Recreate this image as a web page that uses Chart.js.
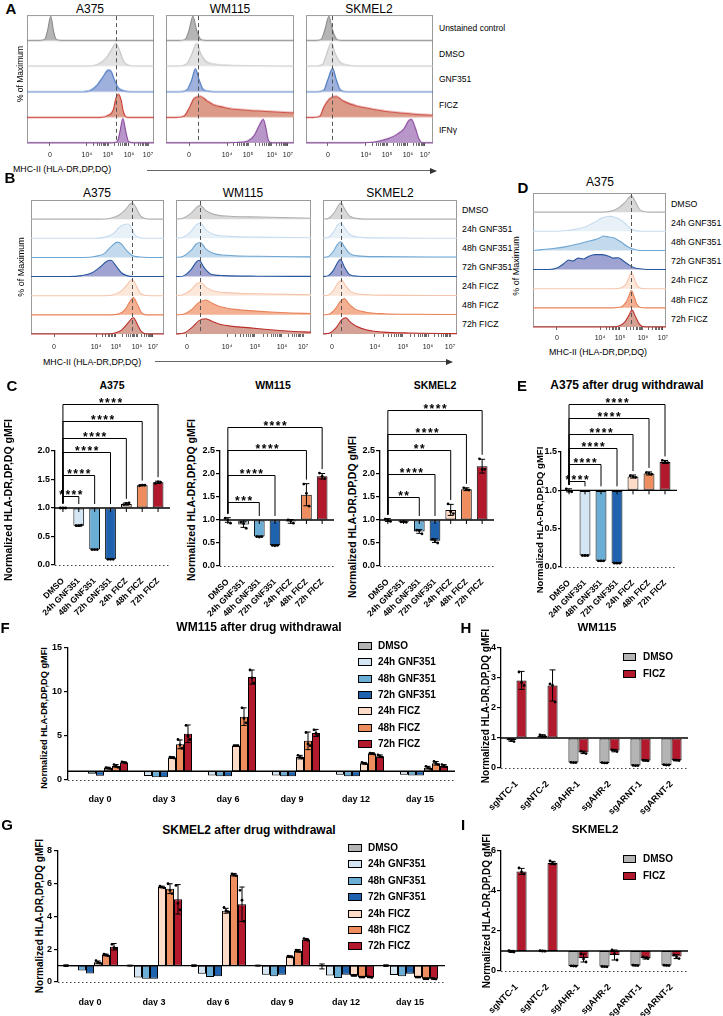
<!DOCTYPE html>
<html><head><meta charset="utf-8">
<script src="https://cdn.jsdelivr.net/npm/chart.js@4.4.1/dist/chart.umd.min.js"></script>
<style>
html,body{margin:0;padding:0;background:#fff}
#page{position:relative;width:723px;height:1016px;overflow:hidden;background:#fff;font-family:'Liberation Sans',Arial,sans-serif;color:#000}
.t{position:absolute;white-space:nowrap;line-height:1}
canvas{position:absolute}
</style></head><body><div id="page"></div>
<script>
// ================= DATA =================
// ---- flow cytometry histograms (x = % of box width, h = fraction of row height) ----
const rowsA = ['Unstained control','DMSO','GNF351','FICZ','IFNγ'];
const rowsB = ['DMSO','24h GNF351','48h GNF351','72h GNF351','24h FICZ','48h FICZ','72h FICZ'];
const flowTickLabels = ['0','10⁴','10⁵','10⁶','10⁷'];
const flowTicksA1 = [18.1,47.2,63.8,80.3,95.3];
const flowTicksA2 = [18.0,47.7,64.1,82.8,95.3];
const flowTicksA3 = [17.3,47.2,63.8,80.3,93.7];
const flowTicksB1 = [17.3,48.9,63.9,79.7,91.7];
const flowTicksB2 = [8.1,37.8,58.5,78.5,94.1];
const flowTicksB3 = [6.7,38.8,59.7,78.4,94.8];
const flowTicksD  = [18.0,50.4,65.4,82.7,97.7];
const dmsoLine = [70.1,25,20.5,75.9,17.8,13.4,73.7]; // A1,A2,A3,B1,B2,B3,D

const histA_A375 = [
 [[10,0],[14,0.05],[16,0.35],[18.7,0.95],[21,0.35],[23,0.05],[27,0]],
 [[50,0],[56,0.08],[62,0.3],[66,0.6],[70,0.9],[73,0.6],[76,0.2],[80,0.03],[84,0]],
 [[42,0],[50,0.06],[55,0.25],[60,0.6],[64,0.85],[66,0.82],[69,0.45],[72,0.15],[77,0.03],[82,0]],
 [[58,0],[64,0.08],[68,0.3],[70,0.75],[72,0.9],[74,0.7],[76,0.2],[79,0]],
 [[66,0],[71,0.05],[73,0.4],[75.5,0.95],[78,0.4],[80,0.05],[84,0]]
];
const histA_WM115 = [
 [[10,0],[15,0.05],[18,0.4],[21,0.95],[24,0.4],[27,0.05],[31,0]],
 [[10,0],[16,0.08],[20,0.45],[24,0.9],[27,0.5],[31,0.2],[38,0.08],[50,0.03],[70,0.01],[100,0]],
 [[11,0],[16,0.06],[20,0.45],[23,0.9],[26,0.45],[29,0.1],[34,0.02],[40,0]],
 [[8,0],[14,0.05],[18,0.35],[22,0.75],[27,0.82],[32,0.65],[37,0.5],[45,0.4],[52,0.33],[60,0.3],[66,0.27],[75,0.25],[85,0.22],[100,0.18]],
 [[40,0],[55,0.02],[64,0.08],[69,0.3],[73,0.7],[76,0.92],[78,0.6],[80,0.1],[83,0]]
];
const histA_SKMEL2 = [
 [[8,0],[12,0.05],[15,0.45],[18,0.95],[21,0.4],[24,0.06],[28,0]],
 [[8,0],[13,0.06],[16,0.45],[20,0.92],[23,0.5],[27,0.15],[33,0.04],[40,0]],
 [[9,0],[14,0.06],[17,0.45],[21,0.92],[24,0.45],[27,0.08],[32,0]],
 [[6,0],[11,0.05],[14,0.4],[19,0.75],[24,0.82],[29,0.65],[35,0.52],[40,0.45],[50,0.35],[58,0.28],[66,0.22],[74,0.18],[85,0.13],[95,0.1],[100,0.09]],
 [[35,0],[50,0.02],[58,0.08],[66,0.2],[72,0.35],[77,0.55],[81,0.88],[83,0.92],[86,0.6],[89,0.15],[92,0]]
];
const histB_A375 = [
 [[52,0],[60,0.05],[66,0.2],[71,0.5],[76,0.85],[79,0.6],[82,0.2],[86,0.03],[90,0]],
 [[48,0],[56,0.06],[62,0.25],[66,0.55],[70,0.72],[73,0.75],[76,0.5],[78,0.2],[82,0.03],[86,0]],
 [[40,0],[48,0.05],[55,0.2],[60,0.55],[65,0.8],[68,0.7],[72,0.35],[76,0.1],[82,0.02],[88,0]],
 [[28,0],[38,0.05],[46,0.2],[52,0.5],[57,0.8],[60,0.85],[64,0.55],[68,0.2],[72,0.05],[78,0]],
 [[55,0],[62,0.05],[68,0.25],[72,0.55],[76,0.85],[79,0.55],[82,0.15],[86,0.02],[90,0]],
 [[58,0],[66,0.05],[71,0.3],[74,0.65],[77,0.9],[80,0.55],[83,0.12],[87,0]],
 [[55,0],[63,0.05],[68,0.2],[72,0.5],[77,0.85],[80,0.5],[83,0.12],[87,0]]
];
const histB_WM115 = [
 [[0,0],[5,0.05],[11,0.3],[15,0.6],[18,0.72],[22,0.45],[28,0.25],[40,0.15],[55,0.12],[70,0.1],[85,0.07],[100,0.05]],
 [[0,0],[5,0.05],[11,0.35],[15,0.7],[18,0.8],[22,0.45],[28,0.2],[40,0.1],[60,0.06],[100,0.03]],
 [[0,0],[5,0.05],[11,0.35],[15,0.7],[18,0.78],[22,0.45],[28,0.2],[40,0.1],[60,0.06],[100,0.03]],
 [[2,0],[6,0.05],[11,0.35],[15,0.75],[17,0.85],[21,0.45],[26,0.12],[35,0.05],[60,0.02],[100,0.01]],
 [[0,0],[5,0.05],[11,0.3],[15,0.6],[18,0.7],[22,0.45],[28,0.25],[40,0.15],[60,0.1],[80,0.07],[100,0.05]],
 [[0,0],[6,0.05],[12,0.3],[17,0.65],[22,0.78],[27,0.6],[33,0.42],[42,0.3],[55,0.22],[70,0.15],[85,0.1],[100,0.07]],
 [[0,0],[6,0.05],[12,0.35],[17,0.7],[22,0.8],[27,0.65],[33,0.5],[42,0.4],[55,0.32],[70,0.22],[85,0.14],[100,0.1]]
];
const histB_SKMEL2 = [
 [[0,0],[4,0.04],[8,0.3],[11,0.65],[13.5,0.85],[16,0.55],[20,0.15],[25,0.04],[32,0]],
 [[0,0],[4,0.05],[8,0.35],[11,0.7],[13.5,0.8],[16,0.55],[20,0.2],[26,0.06],[40,0.02],[100,0]],
 [[0,0],[4,0.05],[8,0.35],[11,0.7],[13.5,0.82],[16,0.55],[20,0.2],[26,0.08],[40,0.04],[100,0.02]],
 [[0,0],[4,0.05],[8,0.35],[11,0.75],[13,0.9],[16,0.5],[20,0.1],[26,0.02],[34,0]],
 [[0,0],[4,0.04],[8,0.3],[11,0.65],[14,0.8],[17,0.5],[21,0.2],[28,0.08],[45,0.03],[100,0.01]],
 [[0,0],[5,0.05],[9,0.3],[13,0.7],[16,0.85],[19,0.6],[24,0.3],[32,0.14],[45,0.06],[70,0.03],[100,0.02]],
 [[0,0],[5,0.05],[10,0.35],[14,0.75],[17,0.85],[20,0.65],[25,0.4],[32,0.22],[45,0.1],[65,0.05],[100,0.02]]
];
const histD_A375 = [
 [[50,0],[58,0.04],[64,0.2],[69,0.5],[74,0.85],[77,0.55],[80,0.15],[84,0.02],[88,0]],
 [[15,0],[23,0.03],[32,0.1],[40,0.25],[47,0.5],[52,0.7],[58,0.78],[62,0.72],[67,0.55],[71,0.3],[74,0.12],[78,0.02],[82,0]],
 [[0,0],[5,0.03],[15,0.1],[25,0.2],[33,0.32],[40,0.45],[46,0.55],[50,0.65],[53,0.75],[57,0.7],[61,0.65],[66,0.45],[71,0.2],[75,0.08],[80,0]],
 [[12,0],[18,0.08],[23,0.3],[27,0.5],[30,0.45],[34,0.6],[38,0.55],[42,0.7],[47,0.78],[52,0.78],[57,0.7],[60,0.6],[64,0.62],[68,0.45],[72,0.25],[76,0.1],[82,0.03],[88,0]],
 [[60,0],[66,0.04],[70,0.25],[72,0.55],[74,0.85],[76,0.55],[78,0.2],[81,0.02],[85,0]],
 [[60,0],[66,0.04],[70,0.3],[72,0.6],[74,0.9],[76,0.6],[78,0.2],[81,0.02],[85,0]],
 [[58,0],[64,0.04],[69,0.25],[72,0.6],[74.5,0.88],[77,0.55],[80,0.15],[84,0]]
];
const colA = [['#8c8c8c','#b5b5b5'],['#c4c4c4','#e2e2e2'],['#4a78c2','#9eb0dc'],['#c93a32','#dc9a88'],['#8a4b9d','#b996c9']];
const colB = [['#b0b0b0','#d8d8d8'],['#c8dcee','#e8f1f8'],['#6fa7d4','#c3d9ec'],['#28579f','#9fa3d1'],['#f5c5ac','#fce7db'],['#e8835a','#f3b092'],['#bd2e2b','#d6a195']];

// ---- bar charts ----
const condLabels = ['DMSO','24h GNF351','48h GNF351','72h GNF351','24h FICZ','48h FICZ','72h FICZ'];
const condColors = ['#b4b4b4','#d4e6f3','#6aaed6','#1f62ad','#fddbc6','#ee8d5e','#b3192c'];

const meanA375 = [1.0,0.69,0.27,0.10,1.07,1.40,1.45];
const errA375  = [0.01,0.01,0.005,0.005,0.02,0.01,0.02];
const ptsA375  = [[1.0,1.0,1.0],[0.69,0.69,0.70],[0.27,0.27,0.27],[0.10,0.10,0.10],[1.06,1.08,1.09],[1.39,1.40,1.40],[1.43,1.46,1.45]];
const sigA375  = [[1,1.21,'****'],[2,1.58,'****'],[3,1.98,'****'],[4,2.23,'****'],[5,2.53,'****'],[6,2.82,'****']];

const meanWM115 = [1.0,0.9,0.64,0.45,0.97,1.55,1.95];
const errWM115  = [0.05,0.06,0.01,0.01,0.04,0.24,0.06];
const ptsWM115  = [[1.04,1.0,0.93],[0.95,0.92,0.82],[0.64,0.63,0.64],[0.45,0.44,0.45],[1.0,0.98,0.93],[1.78,1.58,1.3],[2.02,1.95,1.9]];
const sigWM115  = [[2,1.39,'***'],[3,1.98,'****'],[5,2.52,'****'],[6,3.02,'****']];

const meanSKMEL2 = [1.0,0.96,0.75,0.55,1.22,1.67,2.17];
const errSKMEL2  = [0.03,0.01,0.04,0.04,0.12,0.03,0.15];
const ptsSKMEL2  = [[1.02,0.99,0.97],[0.96,0.96,0.95],[0.78,0.77,0.7],[0.58,0.55,0.5],[1.35,1.18,1.14],[1.7,1.67,1.65],[2.33,2.1,2.1]];
const sigSKMEL2  = [[2,1.5,'**'],[3,2.0,'****'],[4,2.52,'**'],[5,2.87,'****'],[6,3.39,'****']];

const meanE = [1.0,0.15,0.08,0.05,1.18,1.22,1.37];
const errE  = [0.02,0.005,0.005,0.005,0.02,0.02,0.02];
const ptsE  = [[1.02,0.99,0.98],[0.15,0.15,0.15],[0.08,0.08,0.08],[0.05,0.05,0.05],[1.19,1.18,1.17],[1.23,1.22,1.21],[1.39,1.37,1.36]];
const sigE  = [[1,1.12,'****'],[2,1.34,'****'],[3,1.55,'****'],[4,1.74,'****'],[5,1.94,'****'],[6,2.13,'****']];

const days = ['day 0','day 3','day 6','day 9','day 12','day 15'];
const wmDMSO   = [1.0,1.0,1.0,1.0,1.0,1.0];
const wmGNF24  = [0.92,0.45,0.5,0.5,0.6,0.6];
const wmGNF48  = [0.72,0.3,0.42,0.42,0.42,0.5];
const wmGNF72  = [0.48,0.3,0.42,0.42,0.42,0.5];
const wmFICZ24 = [1.35,2.55,3.9,2.6,1.9,1.4];
const wmFICZ48 = [1.6,4.05,7.2,4.45,3.0,1.9];
const wmFICZ72 = [2.0,5.25,11.7,5.35,2.7,1.6];
const wmErr24  = [0.1,0.1,0.05,0.2,0.1,0.15];
const wmErr48  = [0.15,0.5,1.0,1.0,0.1,0.2];
const wmErr72  = [0.05,1.0,0.8,0.4,0.15,0.15];
const wmPts24  = [[1.4,1.35,1.3],[2.6,2.55,2.5],[3.9,3.9,3.9],[2.8,2.6,2.5],[2.0,1.9,1.85],[1.55,1.4,1.3]];
const wmPts48  = [[1.75,1.6,1.45],[4.6,4.0,3.6],[8.2,7.0,6.5],[5.4,4.1,3.9],[3.05,3.0,2.95],[2.1,1.9,1.75]];
const wmPts72  = [[2.05,2.0,1.95],[6.2,5.0,4.6],[12.5,11.6,11.0],[5.7,5.3,5.05],[2.85,2.7,2.6],[1.75,1.6,1.5]];

const skDMSO   = [1.0,1.0,1.0,1.0,0.95,1.0];
const skGNF24  = [0.95,0.28,0.5,0.45,0.4,0.42];
const skGNF48  = [0.7,0.2,0.3,0.35,0.25,0.35];
const skGNF72  = [0.52,0.2,0.35,0.45,0.45,0.5];
const skFICZ24 = [1.2,5.8,4.35,1.55,0.4,0.3];
const skFICZ48 = [1.65,5.7,6.55,1.9,0.3,0.2];
const skFICZ72 = [2.15,5.05,4.75,2.6,0.3,0.2];
const skErrD   = [0.05,0.03,0.05,0.03,0.15,0.05];
const skErr24  = [0.08,0.05,0.15,0.05,0.03,0.03];
const skErr48  = [0.05,0.3,0.08,0.08,0.03,0.03];
const skErr72  = [0.2,0.9,1.05,0.06,0.03,0.03];
const skPts24  = [[1.3,1.2,1.15],[5.85,5.8,5.75],[4.55,4.35,4.3],[1.58,1.55,1.52],[0.4,0.4,0.4],[0.3,0.3,0.3]];
const skPts48  = [[1.7,1.65,1.6],[6.0,5.6,5.4],[6.6,6.55,6.5],[1.95,1.9,1.85],[0.3,0.3,0.3],[0.2,0.2,0.2]];
const skPts72  = [[2.3,2.1,2.05],[5.9,4.8,4.4],[5.6,5.0,3.7],[2.65,2.6,2.55],[0.32,0.3,0.28],[0.22,0.2,0.18]];

const sgLabels = ['sgNTC-1','sgNTC-2','sgAHR-1','sgAHR-2','sgARNT-1','sgARNT-2'];
const hDMSO  = [0.93,1.07,0.18,0.17,0.08,0.1];
const hFICZ  = [2.92,2.75,0.52,0.58,0.25,0.26];
const hErrD  = [0.04,0.04,0.01,0.01,0.01,0.01];
const hErrF  = [0.3,0.52,0.04,0.04,0.02,0.02];
const hPtsD  = [[0.96,0.92,0.88],[1.1,1.06,1.05],[0.19,0.18,0.18],[0.18,0.17,0.17],[0.09,0.08,0.08],[0.11,0.1,0.1]];
const hPtsF  = [[3.2,2.85,2.75],[2.8,2.75,2.2],[0.56,0.52,0.48],[0.6,0.58,0.55],[0.26,0.25,0.24],[0.27,0.26,0.25]];
const iDMSO  = [0.98,1.0,0.25,0.22,0.28,0.28];
const iFICZ  = [4.98,5.4,0.65,0.8,0.65,0.72];
const iErrD  = [0.05,0.03,0.02,0.02,0.02,0.02];
const iErrF  = [0.15,0.08,0.2,0.25,0.05,0.1];
const iPtsD  = [[1.02,0.98,0.95],[1.02,1.0,0.99],[0.26,0.25,0.24],[0.23,0.22,0.21],[0.29,0.28,0.27],[0.29,0.28,0.27]];
const iPtsF  = [[5.15,4.95,4.85],[5.5,5.4,5.35],[0.85,0.6,0.45],[1.05,0.85,0.55],[0.7,0.65,0.62],[0.8,0.7,0.62]];

// ================= RENDERING =================
const FONT = "'Liberation Sans', Arial, 'DejaVu Sans', sans-serif";
Chart.defaults.font.family = FONT;
const page = document.getElementById('page');

function mkCanvas(x,y,w,h){
  const c=document.createElement('canvas');
  c.width=w; c.height=h;
  Object.assign(c.style,{left:x+'px',top:y+'px',width:w+'px',height:h+'px'});
  page.appendChild(c); return c;
}
function text(s,x,y,o={}){
  const d=document.createElement('div'); d.className='t'; d.textContent=s;
  const st=d.style; st.left=x+'px'; st.top=y+'px';
  st.fontSize=(o.size||9)+'px'; st.fontWeight=o.bold?'bold':'normal'; st.color=o.color||'#000';
  const ax=o.align==='left'?'0':(o.align==='right'?'-100%':'-50%');
  st.transform=`translate(${ax},-50%)`+(o.rot?` rotate(${o.rot}deg)`:'');
  page.appendChild(d); return d;
}
function hline(x1,x2,y,arrow){
  const d=document.createElement('div');
  d.style.cssText=`position:absolute;left:${x1}px;top:${y}px;width:${x2-x1}px;height:0;border-top:1px solid #666`;
  page.appendChild(d);
  if(arrow){const h=document.createElement('div');
    h.style.cssText=`position:absolute;left:${x2-2}px;top:${y-2.5}px;width:0;height:0;border-top:3px solid transparent;border-bottom:3px solid transparent;border-left:7px solid #333`;
    page.appendChild(h);}
}

// ---- histogram decoration plugin ----
const histDeco = {
  id:'histDeco',
  beforeDatasetsDraw(chart){
    const {ctx, chartArea:a}=chart; ctx.save();
    ctx.strokeStyle='#9a9a9a'; ctx.lineWidth=1;
    ctx.strokeRect(a.left+0.5,a.top+0.5,a.right-a.left-1,a.bottom-a.top-1);
    ctx.restore();
  },
  afterDatasetsDraw(chart,args,opt){
    const {ctx, chartArea:a, scales:{x}}=chart; ctx.save();
    const xd=Math.round(x.getPixelForValue(opt.dash))+0.5;
    ctx.strokeStyle='#555'; ctx.lineWidth=1; ctx.setLineDash([4,3]);
    ctx.beginPath(); ctx.moveTo(xd,a.top+1); ctx.lineTo(xd,a.bottom); ctx.stroke();
    ctx.restore();
  }
};
function histChart(o){
  const a=o.area, m={l:3,t:3,r:3,b:18};
  const cx=a.l-m.l, cy=a.t-m.t, cw=a.r-a.l+m.l+m.r, ch=a.b-a.t+m.t+m.b;
  const c=mkCanvas(cx,cy,cw,ch);
  const n=o.curves.length;
  const ds=o.curves.map((cv,i)=>{
    const base=n-1-i;
    const pts=cv.map(p=>({x:p[0],y:base+p[1]}));
    if(cv[0][0]>0) pts.unshift({x:0,y:base});
    if(cv[cv.length-1][0]<100) pts.push({x:100,y:base});
    return {data:pts,borderColor:o.colors[i][0],backgroundColor:o.colors[i][1],fill:{value:base},
      borderWidth:1.1,pointRadius:0,cubicInterpolationMode:'monotone',clip:2};
  });
  const tickVals=[...o.ticks];
  for(let j=1;j<o.ticks.length-1;j++){const p=o.ticks[j],q=o.ticks[j+1];for(let k=2;k<10;k++)tickVals.push(p+(q-p)*Math.log10(k));}
  new Chart(c,{type:'line',data:{datasets:ds},options:{
    responsive:false,animation:false,devicePixelRatio:1,
    layout:{autoPadding:false,padding:{left:m.l,top:m.t,right:m.r,bottom:0}},
    plugins:{legend:{display:false},tooltip:{enabled:false},histDeco:{dash:o.dash}},
    scales:{
      x:{type:'linear',min:0,max:100,
        afterBuildTicks(s){s.ticks=tickVals.map(v=>({value:v}));},
        afterFit(s){s.height=m.b;},
        grid:{display:true,drawOnChartArea:false,drawTicks:true,tickLength:3,color:'#444',lineWidth:0.8},
        border:{display:false},
        ticks:{autoSkip:false,maxRotation:0,minRotation:0,padding:o.tpad||5,color:'#222',font:{size:7},
          callback:(v)=>{const i=o.ticks.indexOf(v);return i>=0?flowTickLabels[i]:'';}}},
      y:{display:false,min:0,max:n}
    }},plugins:[histDeco]});
}

// ---- Prism-style bar plugin ----
const prism = {
  id:'prism',
  afterDatasetsDraw(chart,args,opt){
    const {ctx,chartArea:a,scales:{x:xs,y:ys}}=chart;
    ctx.save();
    const y0=Math.round(ys.getPixelForValue(0))+0.5;
    ctx.strokeStyle='#444'; ctx.lineWidth=1; ctx.setLineDash([1.5,2.5]);
    ctx.beginPath(); ctx.moveTo(a.left,y0); ctx.lineTo(a.right+opt.ext,y0); ctx.stroke();
    ctx.setLineDash([]);
    const yb=ys.getPixelForValue(opt.base);
    ctx.strokeStyle='#000'; ctx.lineWidth=1.4;
    ctx.beginPath(); ctx.moveTo(a.left,yb); ctx.lineTo(a.right+opt.ext,yb); ctx.stroke();
    if(opt.baseTicks){ctx.lineWidth=1;for(let i=0;i<chart.data.labels.length;i++){const x=xs.getPixelForValue(i);ctx.beginPath();ctx.moveTo(x,yb);ctx.lineTo(x,yb+4);ctx.stroke();}}
    chart.data.datasets.forEach((ds,di)=>{
      const meta=chart.getDatasetMeta(di);
      meta.data.forEach((bar,i)=>{
        const x=bar.x, hw=Math.min(3,bar.width/3);
        if(ds.err&&ds.err[i]){
          const mv=ds.data[i],e=ds.err[i];
          const ya=ys.getPixelForValue(mv-e), yc=ys.getPixelForValue(mv+e);
          ctx.lineWidth=1; ctx.strokeStyle='#000'; ctx.beginPath();
          ctx.moveTo(x,ya);ctx.lineTo(x,yc);ctx.moveTo(x-hw,ya);ctx.lineTo(x+hw,ya);ctx.moveTo(x-hw,yc);ctx.lineTo(x+hw,yc);ctx.stroke();
        }
        if(ds.pts&&ds.pts[i]){
          const n=ds.pts[i].length;
          ds.pts[i].forEach((v,k)=>{const dx=(k-(n-1)/2)*bar.width/4;ctx.fillStyle='#000';ctx.beginPath();ctx.arc(x+dx,ys.getPixelForValue(v),1.4,0,7);ctx.fill();});
        }
      });
    });
    if(opt.brackets&&opt.brackets.length){
      const d0=chart.data.datasets[0];
      const topOf=k=>{let v=Math.max(d0.data[k],opt.base);if(d0.err)v=Math.max(v,d0.data[k]+d0.err[k]);if(d0.pts)v=Math.max(v,...d0.pts[k]);return ys.getPixelForValue(v)-4;};
      const x0=xs.getPixelForValue(0);
      ctx.strokeStyle='#000'; ctx.lineWidth=1; ctx.fillStyle='#000';
      ctx.font=`bold 12px ${FONT}`; ctx.textAlign='center'; ctx.textBaseline='alphabetic';
      try{ctx.letterSpacing='1.5px';}catch(e){}
      opt.brackets.forEach(([j,h,lab])=>{
        const x1=xs.getPixelForValue(j), yt=Math.round(ys.getPixelForValue(h))+0.5;
        ctx.beginPath(); ctx.moveTo(x0,topOf(0)); ctx.lineTo(x0,yt); ctx.lineTo(x1,yt); ctx.lineTo(x1,topOf(j)); ctx.stroke();
        ctx.fillText(lab,(x0+x1)/2+0.75,yt+2.5);
      });
      try{ctx.letterSpacing='0px';}catch(e){}
    }
    if(opt.legend){
      const L=opt.legend, w=L.w||14;
      ctx.font=`bold ${L.size||10}px ${FONT}`; ctx.textBaseline='middle'; ctx.textAlign='left';
      chart.data.datasets.forEach((ds,i)=>{
        const y=Math.round(L.y+i*L.dy);
        ctx.fillStyle=ds.backgroundColor; ctx.fillRect(L.x,y-3.5,w,7);
        ctx.strokeStyle='#000'; ctx.lineWidth=1; ctx.strokeRect(L.x+0.5,y-3.5,w-1,7);
        ctx.fillStyle='#000'; ctx.fillText(ds.label,L.tx,y+0.5);
      });
    }
    ctx.restore();
  }
};
function barChart(o){
  const a=o.area,m=o.m;
  const cx=a.l-m.l, cy=a.t-m.t, cw=a.r-a.l+m.l+m.r, ch=a.b-a.t+m.t+m.b;
  const c=mkCanvas(cx,cy,cw,ch);
  const leg=o.legend?{...o.legend,x:o.legend.x-cx,tx:o.legend.tx-cx,y:o.legend.y-cy}:null;
  new Chart(c,{type:'bar',data:{labels:o.labels,datasets:o.datasets},options:{
    responsive:false,animation:false,devicePixelRatio:1,
    layout:{autoPadding:false,padding:{left:0,top:m.t,right:m.r,bottom:0}},
    plugins:{legend:{display:false},tooltip:{enabled:false},
      prism:{base:1,brackets:o.brackets||[],legend:leg,baseTicks:!!o.baseTicks,ext:o.ext??4}},
    scales:{
      x:{offset:true,grid:{display:false},border:{display:false},
        ticks:{autoSkip:false,maxRotation:o.rot||0,minRotation:o.rot||0,padding:o.xpad??3,color:'#000',
          font:{family:FONT,weight:'bold',size:o.xfs||9}},
        afterFit(s){s.height=m.b;}},
      y:{min:o.yMin,max:o.yMax,
        afterBuildTicks(s){s.ticks=o.yTicks.map(v=>({value:v}));},
        ticks:{callback:(v)=>Number(v).toFixed(o.dec||0),padding:o.ypad??2,color:'#000',font:{family:FONT,weight:'bold',size:o.yfs||9}},
        grid:{display:true,drawOnChartArea:false,drawTicks:true,tickLength:o.tl??4,color:'#000',lineWidth:1.2},
        border:{display:true,color:'#000',width:1.3},
        afterFit(s){s.width=m.l;}}
    }},plugins:[prism]});
}
const barStyle={borderColor:'#000',borderWidth:1,borderSkipped:false,base:1};

// ================= PANEL A =================
text('A',11,8,{size:15,bold:true});
text('A375',90,9,{size:12}); text('WM115',230,9,{size:12}); text('SKMEL2',369,9,{size:12});
histChart({area:{l:27,t:15,r:154,b:142.5},curves:histA_A375,colors:colA,ticks:flowTicksA1,dash:dmsoLine[0],tpad:5});
histChart({area:{l:166,t:15,r:294,b:142.5},curves:histA_WM115,colors:colA,ticks:flowTicksA2,dash:dmsoLine[1],tpad:5});
histChart({area:{l:306,t:15,r:433,b:142.5},curves:histA_SKMEL2,colors:colA,ticks:flowTicksA3,dash:dmsoLine[2],tpad:5});
rowsA.forEach((r,i)=>text(r,439,28+25.5*i,{size:8.5,align:'left'}));
text('% of Maximum',20,74,{size:8.5,rot:-90});
text('MHC-II (HLA-DR,DP,DQ)',13,169,{size:8.8,align:'left'});
hline(147,432,170,true);

// ================= PANEL B =================
text('B',10,177,{size:15,bold:true});
text('A375',97,193,{size:12}); text('WM115',243,193,{size:12}); text('SKMEL2',390,193,{size:12});
histChart({area:{l:31,t:200,r:164,b:334},curves:histB_A375,colors:colB,ticks:flowTicksB1,dash:dmsoLine[3],tpad:6});
histChart({area:{l:176,t:200,r:311,b:334},curves:histB_WM115,colors:colB,ticks:flowTicksB2,dash:dmsoLine[4],tpad:6});
histChart({area:{l:323,t:200,r:457,b:334},curves:histB_SKMEL2,colors:colB,ticks:flowTicksB3,dash:dmsoLine[5],tpad:6});
rowsB.forEach((r,i)=>text(r,462,209.5+19.1*i,{size:8.8,align:'left'}));
text('% of Maximum',21,267,{size:9,rot:-90});
text('MHC-II (HLA-DR,DP,DQ)',43,362,{size:8.8,align:'left'});
hline(155,448,361,true);

// ================= PANEL D =================
text('D',523,187,{size:15,bold:true});
text('A375',600,182,{size:12});
histChart({area:{l:533,t:193,r:666,b:327},curves:histD_A375,colors:colB,ticks:flowTicksD,dash:dmsoLine[6],tpad:4});
rowsB.forEach((r,i)=>text(r,671,204+19.1*i,{size:8.8,align:'left'}));
text('% of Maximum',516,266,{size:9,rot:-90});
text('MHC-II (HLA-DR,DP,DQ)',598,352,{size:8.8});

// ================= PANEL C =================
text('C',12,385,{size:15,bold:true});
text('A375',112,385,{size:10.5,bold:true});
text('WM115',273,385,{size:10.5,bold:true});
text('SKMEL2',435,385,{size:10.5,bold:true});
const yTitle='Normalized HLA-DR,DP,DQ gMFI';
text(yTitle,8,500,{size:10.5,bold:true,rot:-90});
text(yTitle,191,500,{size:10.5,bold:true,rot:-90});
text(yTitle,352,517,{size:10.5,bold:true,rot:-90});
barChart({area:{l:55,t:451,r:166,b:565},m:{l:30,t:75,r:8,b:55},labels:condLabels,
  datasets:[{data:meanA375,backgroundColor:condColors,err:errA375,pts:ptsA375,...barStyle,barPercentage:0.68,categoryPercentage:1}],
  yMin:0,yMax:2,yTicks:[0,0.5,1,1.5,2],dec:1,rot:45,xfs:8.5,brackets:sigA375,baseTicks:true,ypad:1});
barChart({area:{l:220,t:451,r:330,b:566},m:{l:30,t:60,r:8,b:55},labels:condLabels,
  datasets:[{data:meanWM115,backgroundColor:condColors,err:errWM115,pts:ptsWM115,...barStyle,barPercentage:0.68,categoryPercentage:1}],
  yMin:0,yMax:2.5,yTicks:[0,0.5,1,1.5,2,2.5],dec:1,rot:45,xfs:8.5,brackets:sigWM115,baseTicks:true,ypad:1});
barChart({area:{l:380,t:451,r:490,b:566},m:{l:30,t:60,r:8,b:55},labels:condLabels,
  datasets:[{data:meanSKMEL2,backgroundColor:condColors,err:errSKMEL2,pts:ptsSKMEL2,...barStyle,barPercentage:0.68,categoryPercentage:1}],
  yMin:0,yMax:2.5,yTicks:[0,0.5,1,1.5,2,2.5],dec:1,rot:45,xfs:8.5,brackets:sigSKMEL2,baseTicks:true,ypad:1});

// ================= PANEL E =================
text('E',522,385,{size:15,bold:true});
text('A375 after drug withdrawal',627,385,{size:12,bold:true});
text(yTitle,540,520,{size:9.5,bold:true,rot:-90});
barChart({area:{l:561,t:452,r:673,b:567},m:{l:30,t:65,r:8,b:55},labels:condLabels,
  datasets:[{data:meanE,backgroundColor:condColors,err:errE,pts:ptsE,...barStyle,barPercentage:0.68,categoryPercentage:1}],
  yMin:0,yMax:1.5,yTicks:[0,0.5,1,1.5],dec:1,rot:45,xfs:8.5,brackets:sigE,baseTicks:true,ypad:1,tl:3});

// ================= PANEL F =================
text('F',5,627,{size:15,bold:true});
text('WM115 after drug withdrawal',259,627,{size:12,bold:true});
text(yTitle,45,718,{size:9.2,bold:true,rot:-90});
const gb={...barStyle,barPercentage:1,categoryPercentage:0.875};
barChart({area:{l:68,t:648,r:452,b:780},m:{l:28,t:10,r:8,b:24},labels:days,
  datasets:[
    {label:'DMSO',data:wmDMSO,backgroundColor:condColors[0],...gb},
    {label:'24h GNF351',data:wmGNF24,backgroundColor:condColors[1],...gb},
    {label:'48h GNF351',data:wmGNF48,backgroundColor:condColors[2],...gb},
    {label:'72h GNF351',data:wmGNF72,backgroundColor:condColors[3],...gb},
    {label:'24h FICZ',data:wmFICZ24,backgroundColor:condColors[4],err:wmErr24,pts:wmPts24,...gb},
    {label:'48h FICZ',data:wmFICZ48,backgroundColor:condColors[5],err:wmErr48,pts:wmPts48,...gb},
    {label:'72h FICZ',data:wmFICZ72,backgroundColor:condColors[6],err:wmErr72,pts:wmPts72,...gb}],
  yMin:0,yMax:15,yTicks:[0,5,10,15],dec:0,rot:0,xfs:9,xpad:6,ext:3,
  legend:{x:358,tx:378,y:646,dy:16.3}});

// ================= PANEL G =================
text('G',7,824,{size:15,bold:true});
text('SKMEL2 after drug withdrawal',249,830,{size:12,bold:true});
text(yTitle,40,916,{size:10,bold:true,rot:-90});
barChart({area:{l:58,t:851,r:442,b:982},m:{l:28,t:10,r:8,b:24},labels:days,
  datasets:[
    {label:'DMSO',data:skDMSO,backgroundColor:condColors[0],err:skErrD,...gb},
    {label:'24h GNF351',data:skGNF24,backgroundColor:condColors[1],...gb},
    {label:'48h GNF351',data:skGNF48,backgroundColor:condColors[2],...gb},
    {label:'72h GNF351',data:skGNF72,backgroundColor:condColors[3],...gb},
    {label:'24h FICZ',data:skFICZ24,backgroundColor:condColors[4],err:skErr24,pts:skPts24,...gb},
    {label:'48h FICZ',data:skFICZ48,backgroundColor:condColors[5],err:skErr48,pts:skPts48,...gb},
    {label:'72h FICZ',data:skFICZ72,backgroundColor:condColors[6],err:skErr72,pts:skPts72,...gb}],
  yMin:0,yMax:8,yTicks:[0,2,4,6,8],dec:0,rot:0,xfs:9,xpad:7,ext:3,
  legend:{x:348,tx:368,y:848,dy:16.4}});

// ================= PANEL H =================
text('H',466,627,{size:15,bold:true});
text('WM115',597,628,{size:11.5,bold:true});
text(yTitle,486,706,{size:10,bold:true,rot:-90});
const sb={...barStyle,barPercentage:1,categoryPercentage:0.65};
barChart({area:{l:501,t:648,r:687,b:768},m:{l:22,t:10,r:8,b:48},labels:sgLabels,
  datasets:[
    {label:'DMSO',data:hDMSO,backgroundColor:'#b4b4b4',err:hErrD,pts:hPtsD,...sb},
    {label:'FICZ',data:hFICZ,backgroundColor:'#b3192c',err:hErrF,pts:hPtsF,...sb}],
  yMin:0,yMax:4,yTicks:[0,1,2,3,4],dec:0,rot:45,xfs:9,ext:1,ypad:1,
  legend:{x:623,tx:643,y:657,dy:17,w:13}});

// ================= PANEL I =================
text('I',463,824,{size:15,bold:true});
text('SKMEL2',595,830,{size:11.5,bold:true});
text(yTitle,487,911,{size:10,bold:true,rot:-90});
barChart({area:{l:501,t:851,r:687,b:971},m:{l:22,t:10,r:8,b:45},labels:sgLabels,
  datasets:[
    {label:'DMSO',data:iDMSO,backgroundColor:'#b4b4b4',err:iErrD,pts:iPtsD,...sb},
    {label:'FICZ',data:iFICZ,backgroundColor:'#b3192c',err:iErrF,pts:iPtsF,...sb}],
  yMin:0,yMax:6,yTicks:[0,2,4,6],dec:0,rot:45,xfs:9,ext:1,ypad:1,
  legend:{x:623,tx:643,y:859,dy:17,w:13}});
</script></body></html>
